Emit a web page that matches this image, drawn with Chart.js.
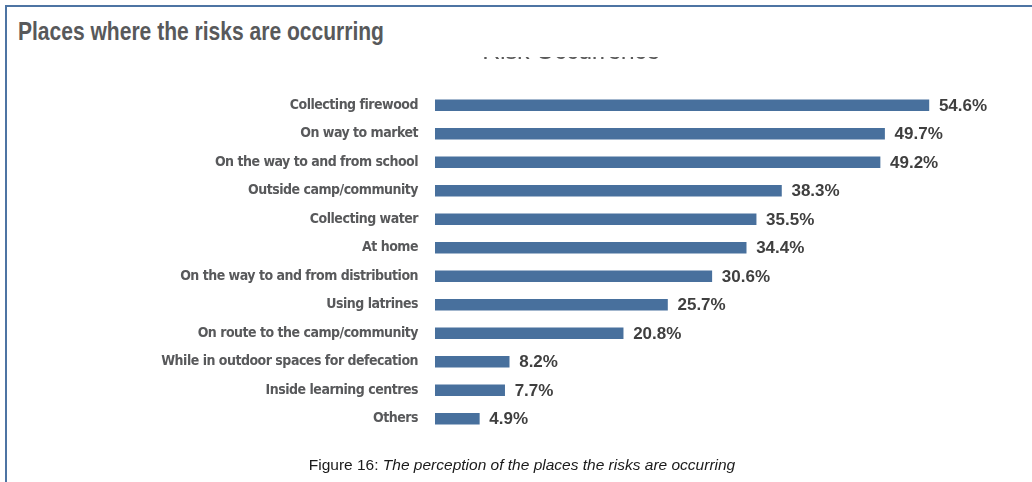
<!DOCTYPE html>
<html>
<head>
<meta charset="utf-8">
<script src="https://cdn.jsdelivr.net/npm/chart.js@4.4.0/dist/chart.umd.min.js"></script>
<style>
  html, body { margin: 0; padding: 0; background: #fff; }
  body { width: 1032px; height: 482px; position: relative; overflow: hidden; }
  #frameTop { position: absolute; left: 5px; top: 5px; width: 1027px; height: 2px; background: #4d74a3; }
  #frameLeft { position: absolute; left: 5px; top: 5px; width: 2px; height: 477px; background: #4d74a3; }
  #heading {
    position: absolute; left: 18px; top: 14px; white-space: nowrap;
    font-family: "Liberation Sans", Arial, sans-serif;
    font-weight: bold; font-size: 25px; color: #58595b; line-height: 34px;
    transform-origin: 0 0;
  }
  #chartWrap { position: absolute; left: 0; top: 57px; width: 1032px; height: 425px; overflow: hidden; }
  #chartWrap canvas { position: absolute; left: 0; top: -57px; }
  #caption {
    position: absolute; left: 0; width: 1044px; top: 456px; text-align: center;
    font-family: "Liberation Sans", Arial, sans-serif; font-size: 15.5px; color: #1a1a1a;
  }
  #caption i { font-style: italic; }
</style>
</head>
<body>
<div id="frameTop"></div>
<div id="frameLeft"></div>
<div id="heading">Places where the risks are occurring</div>
<div id="chartWrap"><canvas id="barChart" width="1032" height="482"></canvas></div>
<div id="caption">Figure 16: <i>The perception of the places the risks are occurring</i></div>

<script>
// Risk occurrence by place (% of respondents)
const chartTitle = "Risk Occurrence";
const places = [
  "Collecting firewood",
  "On way to market",
  "On the way to and from school",
  "Outside camp/community",
  "Collecting water",
  "At home",
  "On the way to and from distribution",
  "Using latrines",
  "On route to the camp/community",
  "While in outdoor spaces for defecation",
  "Inside learning centres",
  "Others",
];
const percentages = [54.6, 49.7, 49.2, 38.3, 35.5, 34.4, 30.6, 25.7, 20.8, 8.2, 7.7, 4.9];

// heading is a condensed face in the original, squeeze Arial-like bold to the same width
const heading = document.getElementById("heading");
heading.style.transform = "scaleX(" + (366 / heading.offsetWidth) + ")";

// tighter letters for the axis labels (no narrow font installed)
const tightLabels = {
  id: "tightLabels",
  beforeLayout(chart) {
    chart.ctx.letterSpacing = "-0.5px";
  },
  beforeDraw(chart) {
    chart.ctx.letterSpacing = "-0.5px";
  },
  beforeDatasetsDraw(chart) {
    chart.ctx.letterSpacing = "0px";
  },
};

// draws the "54.6%" labels at the end of each bar
const valueLabels = {
  id: "valueLabels",
  afterDatasetsDraw(chart) {
    const ctx = chart.ctx;
    const meta = chart.getDatasetMeta(0);
    ctx.save();
    ctx.letterSpacing = "0px";
    ctx.font = "bold 17px 'Liberation Sans', Arial, sans-serif";
    ctx.fillStyle = "#3f3f3f";
    ctx.textAlign = "left";
    ctx.textBaseline = "middle";
    meta.data.forEach((bar, i) => {
      ctx.fillText(percentages[i].toFixed(1) + "%", bar.x + 10, bar.y + 1);
    });
    ctx.restore();
  },
};

var barCtx = document.getElementById("barChart").getContext("2d");

var barChart = new Chart(barCtx, {
  type: "bar",
  data: {
    labels: places,
    datasets: [
      {
        label: chartTitle,
        data: percentages,
        backgroundColor: "#48709d",
        borderWidth: 0,
        barThickness: 11,
      },
    ],
  },
  options: {
    indexAxis: "y",
    responsive: false,
    animation: false,
    layout: {
      padding: { top: 27, bottom: 49, left: 110, right: 0 },
    },
    scales: {
      x: {
        display: false,
        min: 0,
        max: 66,
      },
      y: {
        grid: { display: false, drawTicks: false },
        border: { display: false },
        afterFit: (scale) => {
          scale.width = 325;
        },
        ticks: {
          padding: 17,
          color: "#58595b",
          font: {
            family: "'DejaVu Sans Condensed', 'Liberation Sans Narrow', sans-serif",
            weight: "bold",
            size: 14,
          },
        },
      },
    },
    plugins: {
      legend: { display: false },
      tooltip: { enabled: false },
      title: {
        display: true,
        text: chartTitle,
        color: "#595959",
        font: { family: "'Liberation Sans', Arial, sans-serif", size: 25, weight: "normal" },
        padding: { top: 10, bottom: 24 },
      },
    },
  },
  plugins: [tightLabels, valueLabels],
});
</script>
</body>
</html>
